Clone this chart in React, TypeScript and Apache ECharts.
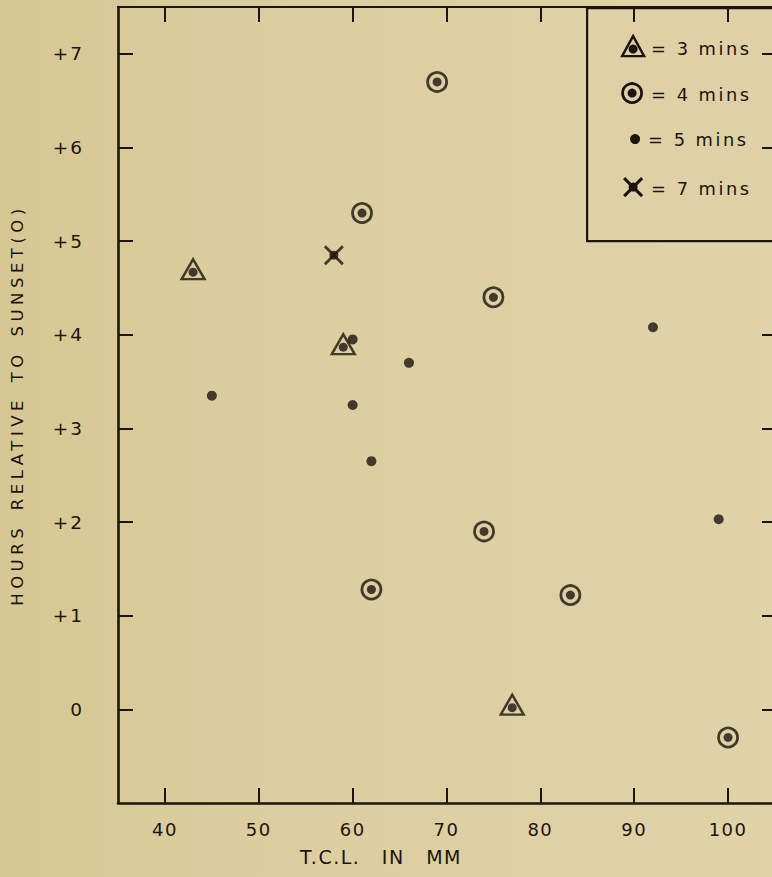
import React, { useEffect, useRef } from "react";
import * as echarts from "echarts";

// ---- data ----
const xTickValues = [40, 50, 60, 70, 80, 90, 100];
const yTickValues = [0, 1, 2, 3, 4, 5, 6, 7];

// triangle = 3 mins
const tri3 = [
  [43, 4.7],
  [59, 3.9],
  [77, 0.05],
];
// ringed dot = 4 mins
const circ4 = [
  [69, 6.7],
  [61, 5.3],
  [75, 4.4],
  [74, 1.9],
  [62, 1.28],
  [83.2, 1.22],
  [100, -0.3],
];
// dot = 5 mins
const dot5 = [
  [60, 3.95],
  [45, 3.35],
  [66, 3.7],
  [60, 3.25],
  [62, 2.65],
  [92, 4.08],
  [99, 2.03],
];
// cross = 7 mins
const x7 = [[58, 4.85]];

const legendLabels = ["= 3 mins", "= 4 mins", "= 5 mins", "= 7 mins"];
const yTitle = "HOURS RELATIVE TO SUNSET(O)";
const xTitle = "T.C.L. IN MM";

const INK = "#1c1410";
const FONT = "DejaVu Sans";
const X_PATH =
  "path://M2,0 L10,8 L18,0 L20,2 L12,10 L20,18 L18,20 L10,12 L2,20 L0,18 L8,10 L0,2 Z";

const CSS = `
.ref-chart svg text { letter-spacing: 1.5px; }
.ref-chart svg text[style*="16.5px"] { letter-spacing: 4.5px; word-spacing: 4px; }
.ref-chart svg text[style*="19px"] { letter-spacing: 1.5px; word-spacing: 14px; }
.ref-chart svg text[style*="17.8px"] { letter-spacing: 2.5px; }
.ref-chart svg text[style*="18.5px"] { letter-spacing: 2px; }
`;

export default function App() {
  const ref = useRef<HTMLDivElement>(null);

  useEffect(() => {
    if (!ref.current) return;
    const chart = echarts.init(ref.current, null, { renderer: "svg" });

    const axisCommon = {
      type: "value" as const,
      splitLine: { show: false },
      axisLine: { show: true, onZero: false, lineStyle: { color: INK, width: 2.6 } },
    };

    const dotStyle = { color: INK };
    const ringStyle = { color: "rgba(0,0,0,0)", borderColor: INK, borderWidth: 2.8 };
    const tickStyle = { color: INK, width: 2 };

    chart.setOption({
      animation: false,
      backgroundColor: new echarts.graphic.LinearGradient(0, 0, 1, 0, [
        { offset: 0, color: "#d6c793" },
        { offset: 0.3, color: "#dbcd9e" },
        { offset: 1, color: "#e0d3a8" },
      ]),
      textStyle: { fontFamily: FONT, color: INK },
      grid: {
        left: 118,
        right: -3,
        top: 7,
        bottom: 74,
        containLabel: false,
        outerBoundsMode: "none",
      },
      xAxis: [
        {
          ...axisCommon,
          position: "bottom",
          min: 35,
          max: 105,
          axisTick: {
            show: true,
            inside: true,
            length: 15,
            customValues: xTickValues,
            lineStyle: tickStyle,
          },
          axisLabel: {
            customValues: xTickValues,
            margin: 17,
            fontSize: 18,
            color: INK,
            fontFamily: FONT,
          },
        },
        {
          ...axisCommon,
          position: "top",
          min: 35,
          max: 105,
          axisLine: { show: true, onZero: false, lineStyle: { color: INK, width: 2.2 } },
          axisTick: {
            show: true,
            inside: true,
            length: 15,
            customValues: xTickValues,
            lineStyle: tickStyle,
          },
          axisLabel: { show: false },
        },
      ],
      yAxis: [
        {
          ...axisCommon,
          position: "left",
          min: -1,
          max: 7.5,
          axisTick: {
            show: true,
            inside: true,
            length: 15,
            customValues: yTickValues,
            lineStyle: tickStyle,
          },
          axisLabel: {
            customValues: yTickValues,
            margin: 34,
            fontSize: 18.5,
            color: INK,
            fontFamily: FONT,
            formatter: (v: number) => (v > 0 ? "+" + v : String(v)),
          },
          name: yTitle,
          nameLocation: "middle",
          nameRotate: 90,
          nameGap: 92,
          nameTextStyle: { fontSize: 16.5, color: INK, fontFamily: FONT },
        },
        {
          ...axisCommon,
          position: "right",
          min: -1,
          max: 7.5,
          axisTick: {
            show: true,
            inside: true,
            length: 13,
            customValues: yTickValues,
            lineStyle: tickStyle,
          },
          axisLabel: { show: false },
        },
      ],
      series: [
        {
          type: "scatter",
          name: "3 mins",
          data: tri3,
          symbol: "triangle",
          symbolSize: [23, 20],
          itemStyle: { color: "rgba(0,0,0,0)", borderColor: INK, borderWidth: 2.4 },
          silent: true,
          z: 3,
        },
        {
          type: "scatter",
          name: "3 mins dot",
          data: tri3,
          symbol: "circle",
          symbolSize: 9,
          symbolOffset: [0, 3],
          itemStyle: dotStyle,
          silent: true,
          z: 4,
        },
        {
          type: "scatter",
          name: "4 mins",
          data: circ4,
          symbol: "circle",
          symbolSize: 19,
          itemStyle: ringStyle,
          silent: true,
          z: 3,
        },
        {
          type: "scatter",
          name: "4 mins dot",
          data: circ4,
          symbol: "circle",
          symbolSize: 9,
          itemStyle: dotStyle,
          silent: true,
          z: 4,
        },
        {
          type: "scatter",
          name: "5 mins",
          data: dot5,
          symbol: "circle",
          symbolSize: 10,
          itemStyle: dotStyle,
          silent: true,
          z: 4,
        },
        {
          type: "scatter",
          name: "7 mins",
          data: x7,
          symbol: X_PATH,
          symbolSize: 20,
          itemStyle: dotStyle,
          silent: true,
          z: 3,
        },
        {
          type: "scatter",
          name: "7 mins dot",
          data: x7,
          symbol: "circle",
          symbolSize: 9,
          itemStyle: dotStyle,
          silent: true,
          z: 4,
        },
      ],
      graphic: [
        {
          type: "text",
          left: 300,
          top: 847,
          style: { text: xTitle, fontSize: 19, fill: INK, fontFamily: FONT },
        },
        {
          type: "group",
          left: 586,
          top: 7,
          z: 100,
          children: [
            {
              type: "rect",
              shape: { x: 0, y: 0, width: 200, height: 233 },
              style: { fill: "#dfd1a5", stroke: INK, lineWidth: 2.2 },
            },
            {
              type: "polygon",
              shape: { points: [[35, 48], [46, 28], [57, 48]] },
              style: { fill: "none", stroke: INK, lineWidth: 2.4 },
            },
            { type: "circle", shape: { cx: 46, cy: 41, r: 4.5 }, style: { fill: INK } },
            {
              type: "circle",
              shape: { cx: 45, cy: 85, r: 9.5 },
              style: { fill: "none", stroke: INK, lineWidth: 2.8 },
            },
            { type: "circle", shape: { cx: 45, cy: 85, r: 4.5 }, style: { fill: INK } },
            { type: "circle", shape: { cx: 48, cy: 131, r: 5 }, style: { fill: INK } },
            {
              type: "line",
              shape: { x1: 37, y1: 170, x2: 55, y2: 188 },
              style: { stroke: INK, lineWidth: 3 },
            },
            {
              type: "line",
              shape: { x1: 55, y1: 170, x2: 37, y2: 188 },
              style: { stroke: INK, lineWidth: 3 },
            },
            { type: "circle", shape: { cx: 46, cy: 179, r: 4.5 }, style: { fill: INK } },
            ...legendLabels.map((t, i) => ({
              type: "text",
              x: i === 2 ? 61 : 64,
              y: [40, 86, 131, 180][i],
              style: {
                text: t,
                fontSize: 17.8,
                fill: INK,
                fontFamily: FONT,
                verticalAlign: "middle",
              },
            })),
          ],
        },
      ],
    });

    return () => chart.dispose();
  }, []);

  return (
    <>
      <style>{CSS}</style>
      <div
        ref={ref}
        className="ref-chart"
        style={{ position: "fixed", left: 0, top: 0, width: 772, height: 877 }}
      />
    </>
  );
}
